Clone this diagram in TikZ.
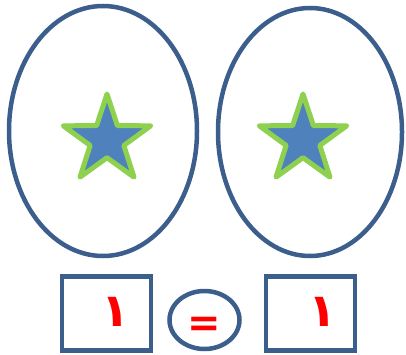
\documentclass[tikz,border=0pt]{standalone}
\usepackage{fontspec}
\newfontfamily\arabicfont[Script=Arabic]{DejaVu Sans}
\newfontfamily\symfont{DejaVu Sans}
\TeXXeTstate=1
\usetikzlibrary{shapes.geometric}
\definecolor{edgeblue}{HTML}{3B5E8C}
\definecolor{starfill}{HTML}{4F81BD}
\definecolor{stargreen}{HTML}{8ED14F}
\definecolor{digitred}{HTML}{FF0000}
\begin{document}
\begin{tikzpicture}[x=1pt,y=-1pt,
  bigoval/.style={draw=edgeblue,line width=4.5pt,ellipse,inner sep=0pt},
  starshape/.style={star,star points=5,star point ratio=2.6,draw=stargreen,fill=starfill,line width=5pt,line join=round,minimum size=92pt,inner sep=0pt},
  numbox/.style={draw=edgeblue,line width=4.5pt,rectangle,minimum width=89pt,minimum height=74pt,inner sep=0pt},
  digit/.style={text=digitred,font=\arabicfont\bfseries\fontsize{46}{52}\selectfont}]
\useasboundingbox (0,0) rectangle (406,355);
\node[bigoval,minimum width=188pt,minimum height=250pt] (e1) at (103,131) {};
\node[bigoval,minimum width=184pt,minimum height=248pt] (e2) at (310,132) {};
\node[starshape] (s1) at (107,140) {};
\node[starshape] (s2) at (303,140) {};
\node[numbox] (b1) at (106.5,313.5) {};
\node[numbox] (b2) at (310.5,313.5) {};
\node[bigoval,minimum width=70pt,minimum height=58pt] (eq) at (204.5,320) {};
\node[digit] (d1) at (116,312) {\beginR ١\endR};
\node[digit] (d2) at (323,312) {\beginR ١\endR};
\node[text=digitred,font=\symfont\bfseries\fontsize{40}{40}\selectfont] (eqs) at (204.5,327) {=};
\end{tikzpicture}
\end{document}
